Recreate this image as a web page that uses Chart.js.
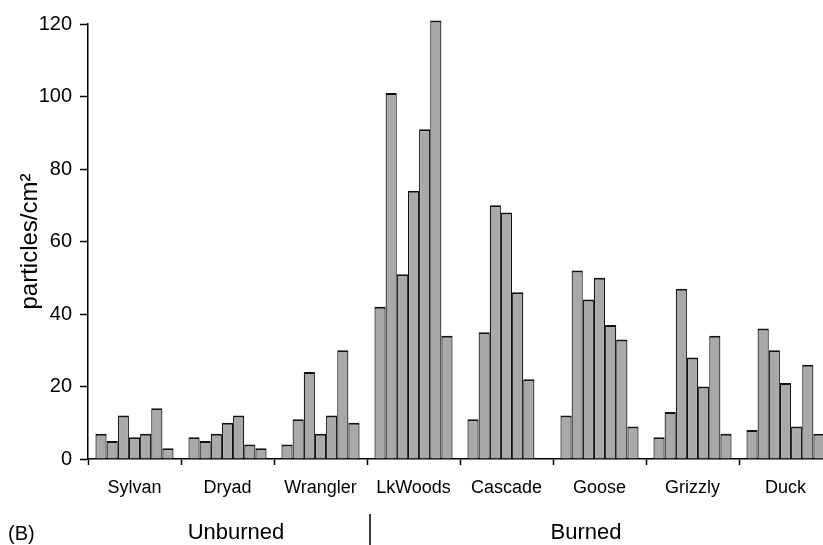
<!DOCTYPE html>
<html>
<head>
<meta charset="utf-8">
<script src="https://cdn.jsdelivr.net/npm/chart.js@4"></script>
<style>
  html, body { margin: 0; padding: 0; background: #fff; overflow: hidden; }
  #wrap { width: 834px; height: 545px; }
</style>
</head>
<body>
<div id="wrap"><canvas id="chart" width="834" height="545"></canvas></div>
<script>
// sites along the x axis
const sites = ['Sylvan', 'Dryad', 'Wrangler', 'LkWoods', 'Cascade', 'Goose', 'Grizzly', 'Duck'];

// particles/cm2, seven samples per site
const sylvan   = [7, 5, 12, 6, 7, 14, 3];
const dryad    = [6, 5, 7, 10, 12, 4, 3];
const wrangler = [4, 11, 24, 7, 12, 30, 10];
const lkWoods  = [42, 101, 51, 74, 91, 121, 34];
const cascade  = [11, 35, 70, 68, 46, 22, 0];
const goose    = [12, 52, 44, 50, 37, 33, 9];
const grizzly  = [6, 13, 47, 28, 20, 34, 7];
const duck     = [8, 36, 30, 21, 9, 26, 7];

const yTicks = [0, 20, 40, 60, 80, 100, 120];

const siteValues = [sylvan, dryad, wrangler, lkWoods, cascade, goose, grizzly, duck];

// one dataset per sample position so the bars sit side by side in each site
const datasets = sylvan.map(function (_, i) {
  return {
    label: 'sample ' + (i + 1),
    data: siteValues.map(function (s) { return s[i]; }),
    backgroundColor: '#a9a9a9',
    borderColor: '#111',
    borderWidth: { top: 2, left: 1.2, right: 1.2, bottom: 0 },
    borderSkipped: 'bottom',
    clip: false
  };
});

const font = 'Liberation Sans, Arial, Helvetica, sans-serif';

// group labels under the site names
const groupLabels = {
  id: 'groupLabels',
  afterDraw(chart) {
    const ctx = chart.ctx;
    ctx.save();
    ctx.fillStyle = '#000';
    ctx.textBaseline = 'middle';
    ctx.font = '20px ' + font;
    ctx.textAlign = 'left';
    ctx.fillText('(B)', 8, 534);
    ctx.font = '22px ' + font;
    ctx.textAlign = 'center';
    ctx.fillText('Unburned', 236, 533);
    ctx.fillText('Burned', 586, 533);
    ctx.strokeStyle = '#000';
    ctx.lineWidth = 1.5;
    ctx.beginPath();
    ctx.moveTo(370, 514);
    ctx.lineTo(370, 545);
    ctx.stroke();
    ctx.restore();
  }
};

new Chart(document.getElementById('chart'), {
  type: 'bar',
  data: { labels: sites, datasets: datasets },
  options: {
    responsive: false,
    animation: false,
    layout: { padding: { top: 24, right: 2, left: 0, bottom: 0 } },
    datasets: { bar: { categoryPercentage: 0.84, barPercentage: 1.0 } },
    plugins: { legend: { display: false }, tooltip: { enabled: false } },
    scales: {
      x: {
        grid: { drawOnChartArea: false, drawTicks: true, tickLength: 6, tickColor: '#000', tickWidth: 1.5, offset: true },
        border: { color: '#000', width: 1.5 },
        ticks: { color: '#000', font: { family: font, size: 18 }, padding: 12, maxRotation: 0 },
        afterFit(scale) { scale.height = 86; }
      },
      y: {
        min: 0,
        max: 120,
        afterBuildTicks(scale) { scale.ticks = yTicks.map(function (v) { return { value: v }; }); },
        grid: { drawOnChartArea: false, drawTicks: true, tickLength: 8, tickColor: '#000', tickWidth: 1.5 },
        border: { color: '#000', width: 1.5 },
        ticks: { color: '#000', font: { family: font, size: 20 }, padding: 8 },
        title: { display: true, text: 'particles/cm²', color: '#000', font: { family: font, size: 24 }, padding: { top: 16 } },
        afterFit(scale) { scale.width = 88; }
      }
    }
  },
  plugins: [groupLabels]
});
</script>
</body>
</html>
